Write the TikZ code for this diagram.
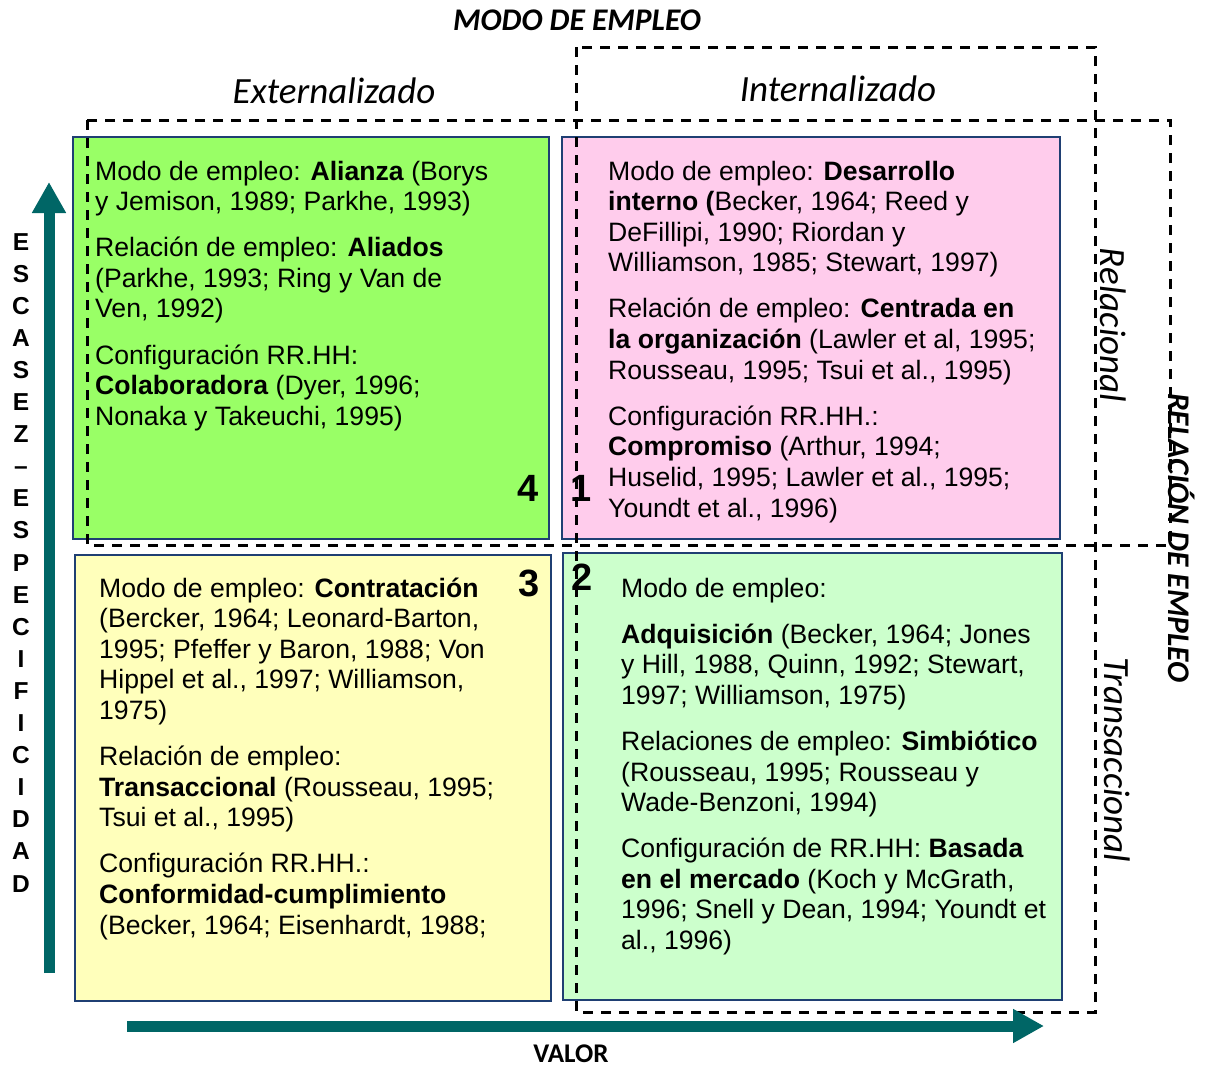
\documentclass[tikz,border=0pt]{standalone}
\usepackage{fontspec}
\setmainfont{Liberation Sans}
\newfontfamily\carlito{Carlito}
\usetikzlibrary{arrows.meta}
\definecolor{tealax}{HTML}{006666}
\definecolor{boxline}{HTML}{1F3F73}
\definecolor{fillA}{HTML}{99FF66}
\definecolor{fillB}{HTML}{FFCCEC}
\definecolor{fillC}{HTML}{FFFFBB}
\definecolor{fillD}{HTML}{CCFFCC}
\newcommand{\gp}{\\[15.5pt]}
\newcommand{\boxtext}[1]{\begin{minipage}[t]{470pt}\raggedright #1\end{minipage}}
\tikzset{
  quad/.style={draw=boxline, line width=1.8pt},
  dashbox/.style={draw=black, line width=3pt, dash pattern=on 10pt off 8pt},
  body/.style={anchor=base west, inner sep=0pt, font=\fontsize{26.6}{30.6}\selectfont},
  axisarrow/.style={draw=tealax, line width=11pt, -{Triangle[length=31pt,width=32pt]}},
  num/.style={inner sep=0pt, font=\bfseries\fontsize{38}{38}\selectfont},
  ital/.style={inner sep=0pt, font=\carlito\itshape\fontsize{37}{37}\selectfont},
  bital/.style={inner sep=0pt, font=\carlito\bfseries\itshape\fontsize{31.5}{31.5}\selectfont}
}
\begin{document}
\begin{tikzpicture}[x=1pt,y=-1pt]
\useasboundingbox (0,0) rectangle (1208,1068);
% quadrant boxes
\path[quad, fill=fillA] (73,137) rectangle (549,539);
\path[quad, fill=fillB] (562,137) rectangle (1060,539);
\path[quad, fill=fillC] (75,555) rectangle (551,1001);
\path[quad, fill=fillD] (563,553) rectangle (1062,1000);
% dashed groupings
\path[dashbox] (576,47) rectangle (1095,1012);
\path[dashbox] (87,120) rectangle (1170,545);
% axes
\coordinate (vstart) at (49,973);
\coordinate (vend) at (49,182);
\coordinate (hstart) at (127,1026);
\coordinate (hend) at (1044,1026);
\draw[axisarrow] (vstart) -- (vend);
\draw[axisarrow] (hstart) -- (hend);
% headings
\node[bital] (modo) at (577,20) {MODO DE EMPLEO};
\node[ital] (ext) at (334,91) {Externalizado};
\node[ital] (int) at (838,89) {Internalizado};
\node[inner sep=0pt, font=\carlito\bfseries\fontsize{27}{27}\selectfont] (valor) at (571,1054) {VALOR};
\node[ital, rotate=-90] (relac) at (1113,325) {Relacional};
\node[ital, rotate=-90] (trans) at (1117,760) {Transaccional};
\node[bital, rotate=-90] (relemp) at (1182,538) {RELACIÓN DE EMPLEO};
% vertical axis label
\node[anchor=base, inner sep=0pt, font=\bfseries\fontsize{24.5}{32.1}\selectfont] (escasez) at (21,250)
  {\begin{minipage}[t]{30pt}\centering E\\S\\C\\A\\S\\E\\Z\\–\\E\\S\\P\\E\\C\\I\\F\\I\\C\\I\\D\\A\\D\end{minipage}};
% quadrant texts
\node[body] (t4) at (95,180) {\boxtext{%
Modo de empleo: \textbf{Alianza} (Borys\\
y Jemison, 1989; Parkhe, 1993)\gp
Relación de empleo: \textbf{Aliados}\\
(Parkhe, 1993; Ring y Van de\\
Ven, 1992)\gp
Configuración RR.HH:\\
\textbf{Colaboradora} (Dyer, 1996;\\
Nonaka y Takeuchi, 1995)}};
\node[body] (t1) at (608,180) {\boxtext{%
Modo de empleo: \textbf{Desarrollo}\\
\textbf{interno (}Becker, 1964; Reed y\\
DeFillipi, 1990; Riordan y\\
Williamson, 1985; Stewart, 1997)\gp
Relación de empleo: \textbf{Centrada en}\\
\textbf{la organización} (Lawler et al, 1995;\\
Rousseau, 1995; Tsui et al., 1995)\gp
Configuración RR.HH.:\\
\textbf{Compromiso} (Arthur, 1994;\\
Huselid, 1995; Lawler et al., 1995;\\
Youndt et al., 1996)}};
\node[body] (t3) at (99,597) {\boxtext{%
Modo de empleo: \textbf{Contratación}\\
(Bercker, 1964; Leonard-Barton,\\
1995; Pfeffer y Baron, 1988; Von\\
Hippel et al., 1997; Williamson,\\
1975)\gp
Relación de empleo:\\
\textbf{Transaccional} (Rousseau, 1995;\\
Tsui et al., 1995)\gp
Configuración RR.HH.:\\
\textbf{Conformidad-cumplimiento}\\
(Becker, 1964; Eisenhardt, 1988;}};
\node[body] (t2) at (621,597) {\boxtext{%
Modo de empleo:\gp
\textbf{Adquisición} (Becker, 1964; Jones\\
y Hill, 1988, Quinn, 1992; Stewart,\\
1997; Williamson, 1975)\gp
Relaciones de empleo: \textbf{Simbiótico}\\
(Rousseau, 1995; Rousseau y\\
Wade-Benzoni, 1994)\gp
Configuración de RR.HH: \textbf{Basada}\\
\textbf{en el mercado} (Koch y McGrath,\\
1996; Snell y Dean, 1994; Youndt et\\
al., 1996)}};
% quadrant numbers
\node[num] (n4) at (528,488) {4};
\node[num] (n1) at (581,488) {1};
\node[num] (n3) at (529,583) {3};
\node[num] (n2) at (582,577) {2};
\end{tikzpicture}
\end{document}
